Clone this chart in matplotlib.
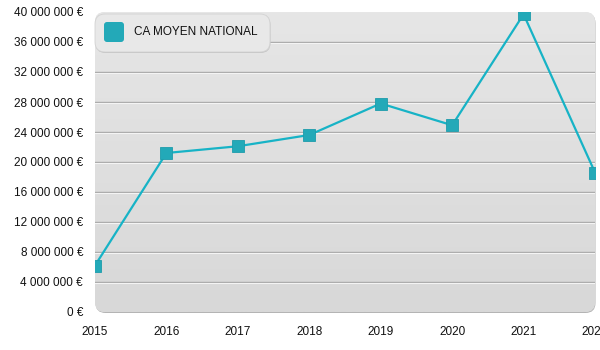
import numpy as np
import matplotlib.pyplot as plt
import matplotlib.transforms as mtransforms
from matplotlib.patches import FancyBboxPatch
from matplotlib.ticker import FuncFormatter, MultipleLocator

plt.rcParams['font.family'] = ['Liberation Sans', 'DejaVu Sans']

# Average national turnover per year
years = [2015, 2016, 2017, 2018, 2019, 2020, 2021, 2022]
ca_moyen = [6200000, 21200000, 22100000, 23600000, 27800000, 24900000, 39700000, 18600000]
series_label = "CA MOYEN NATIONAL"

teal_line = '#17b3c6'
teal_mark = '#23a9b8'

fig = plt.figure(figsize=(6, 3.5), dpi=100)
fig.patch.set_facecolor('white')
ax = fig.add_axes([95 / 600, 38 / 350, 500 / 600, 300 / 350])
ax.patch.set_visible(False)
for s in ax.spines.values():
    s.set_visible(False)

inch = fig.dpi_scale_trans

# rounded panel with a soft shadow
shadow = FancyBboxPatch((0.955, 0.37), 5.0, 3.0, boxstyle="round,pad=0,rounding_size=0.1",
                        transform=inch, facecolor='#b4b4b4', edgecolor='none', zorder=-2)
panel = FancyBboxPatch((0.95, 0.38), 5.0, 3.0, boxstyle="round,pad=0,rounding_size=0.1",
                       transform=inch, facecolor='#e0e0e0', edgecolor='none', zorder=-1)
fig.add_artist(shadow)
fig.add_artist(panel)

grad = np.linspace(0, 1, 256).reshape(-1, 1)
im = ax.imshow(grad, extent=[2015, 2022, 0, 40e6], aspect='auto', origin='upper',
               cmap=plt.matplotlib.colors.LinearSegmentedColormap.from_list('bg', ['#e6e6e6', '#d8d8d8']),
               zorder=0)
im.set_clip_path(panel)

# embossed grid lines
below = mtransforms.offset_copy(ax.transData, fig=fig, y=-1, units='dots')
for v in range(4000000, 40000000, 4000000):
    ax.axhline(v, color='#a9a9a9', lw=1, zorder=1)
    ax.plot([2015, 2022], [v, v], color='#f4f4f4', lw=0.8, transform=below, zorder=1)

ax.plot(years, ca_moyen, color=teal_line, lw=1.6, zorder=3)
ax.plot(years, ca_moyen, ls='none', marker='s', ms=8.5, mfc=teal_mark, mec='#1d9cab', mew=0.6, zorder=4)

ax.set_xlim(2015, 2022)
ax.set_ylim(0, 40000000)
ax.set_xticks(years)
ax.yaxis.set_major_locator(MultipleLocator(4000000))
ax.yaxis.set_major_formatter(FuncFormatter(lambda v, p: f"{int(v):,}".replace(",", " ") + " €"))
ax.tick_params(length=0, labelsize=8.5, labelcolor='#111111')
ax.tick_params(axis='y', pad=8.6)
ax.tick_params(axis='x', pad=10)

# legend box
leg_shadow = FancyBboxPatch((0.955, 2.97), 1.75, 0.38, boxstyle="round,pad=0,rounding_size=0.1",
                            transform=inch, facecolor='#c4c4c4', edgecolor='none', zorder=5)
leg_box = FancyBboxPatch((0.95, 2.98), 1.75, 0.38, boxstyle="round,pad=0,rounding_size=0.1",
                         transform=inch, facecolor='#e8e8e8', edgecolor='#d2d2d2', lw=0.6, zorder=6)
leg_mark = FancyBboxPatch((1.04, 3.08), 0.2, 0.2, boxstyle="round,pad=0,rounding_size=0.03",
                          transform=inch, facecolor=teal_mark, edgecolor='none', zorder=7)
for p in (leg_shadow, leg_box, leg_mark):
    fig.add_artist(p)
fig.text(1.34 / 6, 3.18 / 3.5, series_label, fontsize=8.5, va='center', ha='left',
         color='#111111', zorder=8)

fig.savefig('out.png', dpi=100)
